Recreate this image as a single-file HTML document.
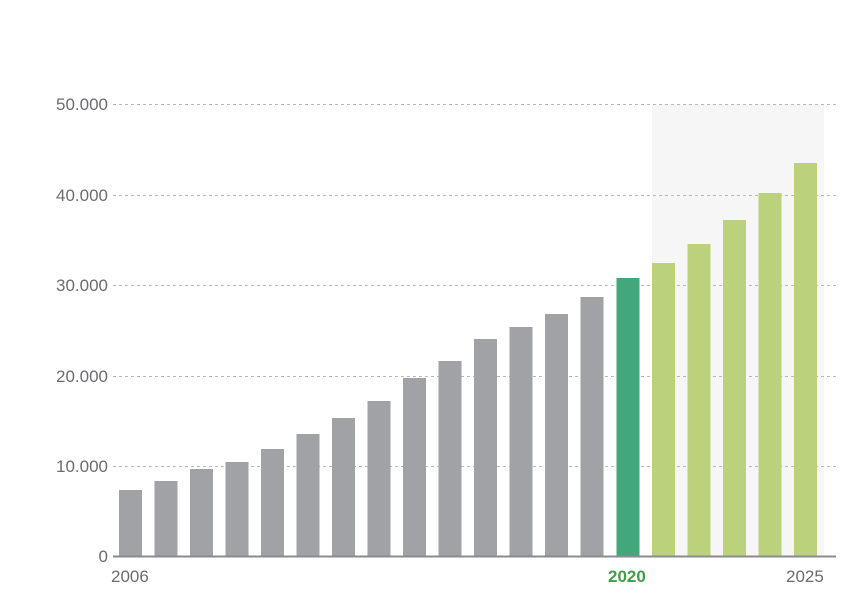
<!DOCTYPE html>
<html><head><meta charset="utf-8"><style>
body{margin:0;background:#fff;}
svg{display:block;font-family:"Liberation Sans",sans-serif;}
</style></head><body>
<svg width="850" height="603" viewBox="0 0 850 603">
<rect x="652" y="104" width="172" height="452" fill="#f6f6f6"/>
<g stroke="#b8b8b8" stroke-width="1" stroke-dasharray="3,3">
<line x1="113" y1="104.5" x2="836" y2="104.5"/>
<line x1="113" y1="195.5" x2="836" y2="195.5"/>
<line x1="113" y1="285.5" x2="836" y2="285.5"/>
<line x1="113" y1="376.5" x2="836" y2="376.5"/>
<line x1="113" y1="466.5" x2="836" y2="466.5"/>
</g>
<g fill="#a1a2a6">
<rect x="119" y="490" width="23" height="66"/>
<rect x="154.5" y="481" width="23" height="75"/>
<rect x="190" y="469" width="23" height="87"/>
<rect x="225.5" y="462" width="23" height="94"/>
<rect x="261" y="449" width="23" height="107"/>
<rect x="296.5" y="434" width="23" height="122"/>
<rect x="332" y="418" width="23" height="138"/>
<rect x="367.5" y="401" width="23" height="155"/>
<rect x="403" y="378" width="23" height="178"/>
<rect x="438.5" y="361" width="23" height="195"/>
<rect x="474" y="339" width="23" height="217"/>
<rect x="509.5" y="327" width="23" height="229"/>
<rect x="545" y="314" width="23" height="242"/>
<rect x="580.5" y="297" width="23" height="259"/>
</g>
<rect x="616.5" y="278" width="23" height="278" fill="#42a87b"/>
<g fill="#bbd17c">
<rect x="652" y="263" width="23" height="293"/>
<rect x="687.5" y="244" width="23" height="312"/>
<rect x="723" y="220" width="23" height="336"/>
<rect x="758.5" y="193" width="23" height="363"/>
<rect x="794" y="163" width="23" height="393"/>
</g>
<line x1="113" y1="556.5" x2="836" y2="556.5" stroke="#8a8b8f" stroke-width="2"/>
<g fill="#6b6c70" font-size="17" text-anchor="end">
<text x="108" y="110">50.000</text>
<text x="108" y="201">40.000</text>
<text x="108" y="291">30.000</text>
<text x="108" y="382">20.000</text>
<text x="108" y="472">10.000</text>
<text x="108" y="562">0</text>
</g>
<g font-size="17">
<text x="111" y="582" fill="#6b6c70">2006</text>
<text x="608" y="582" fill="#3f9e4a" font-weight="bold">2020</text>
<text x="786" y="582" fill="#6b6c70">2025</text>
</g>
</svg>
</body></html>
